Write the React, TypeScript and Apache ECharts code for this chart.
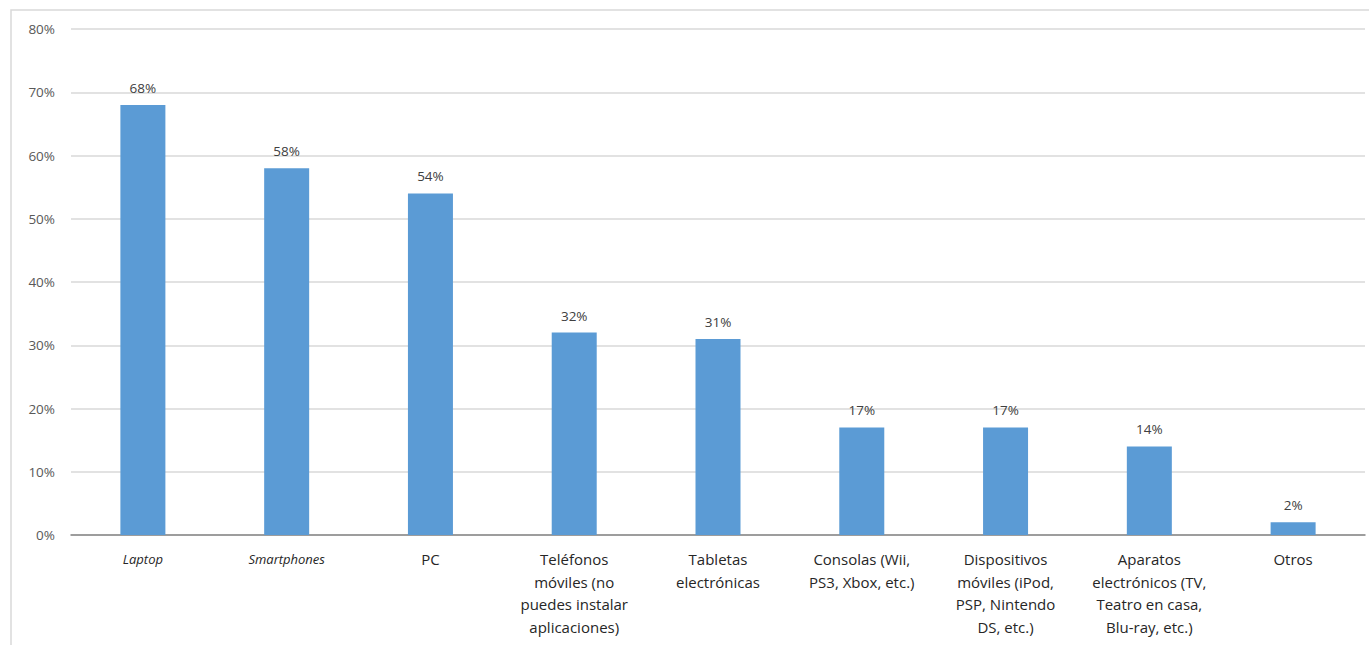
import React, { useEffect, useRef } from "react";
import * as echarts from "echarts";

const categories = [
  "Laptop",
  "Smartphones",
  "PC",
  "Teléfonos\nmóviles (no\npuedes instalar\naplicaciones)",
  "Tabletas\nelectrónicas",
  "Consolas (Wii,\nPS3, Xbox, etc.)",
  "Dispositivos\nmóviles (iPod,\nPSP, Nintendo\nDS, etc.)",
  "Aparatos\nelectrónicos (TV,\nTeatro en casa,\nBlu-ray, etc.)",
  "Otros",
];
const italicCategories = ["Laptop", "Smartphones"];
const values = [68, 58, 54, 32, 31, 17, 17, 14, 2];
const yTicks = [0, 10, 20, 30, 40, 50, 60, 70, 80];

export default function App() {
  const ref = useRef<HTMLDivElement>(null);
  useEffect(() => {
    if (!ref.current) return;
    const chart = echarts.init(ref.current, null, { renderer: "svg" });
    const font = "'Open Sans', 'Noto Sans', sans-serif";
    chart.setOption({
      animation: false,
      backgroundColor: "#ffffff",
      textStyle: { fontFamily: font },
      graphic: [
        {
          type: "rect",
          shape: { x: 11, y: 10, width: 1370, height: 650 },
          style: { fill: "none", stroke: "#d9d9d9", lineWidth: 1.5 },
          silent: true,
        },
      ],
      grid: { left: 71, right: 4, top: 29, bottom: 110, containLabel: false },
      xAxis: {
        type: "category",
        data: categories,
        axisLine: { lineStyle: { color: "#868686", width: 1.5 } },
        axisTick: { show: false },
        axisLabel: {
          interval: 0,
          margin: 13,
          color: "#262626",
          fontSize: 15,
          lineHeight: 22.5,
          fontFamily: font,
          formatter: (v: string) =>
            italicCategories.includes(v) ? `{it|${v}}` : v,
          rich: {
            it: {
              fontStyle: "italic",
              fontSize: 13,
              color: "#262626",
              fontFamily: font,
            },
          },
        },
      },
      yAxis: {
        type: "value",
        min: yTicks[0],
        max: yTicks[yTicks.length - 1],
        interval: 10,
        axisLine: { show: false },
        axisTick: { show: false },
        splitLine: { lineStyle: { color: "#d9d9d9", width: 1.5 } },
        axisLabel: {
          color: "#595959",
          fontSize: 13.5,
          margin: 16,
          fontFamily: font,
          formatter: (v: number) => `${v}%`,
        },
      },
      series: [
        {
          type: "bar",
          data: values,
          barWidth: 45,
          itemStyle: { color: "#5b9bd5" },
          label: {
            show: true,
            position: "top",
            distance: 10,
            color: "#404040",
            fontSize: 13.5,
            fontFamily: font,
            formatter: (p: any) => `${p.value}%`,
          },
        },
      ],
    });
    return () => chart.dispose();
  }, []);
  return (
    <div
      ref={ref}
      style={{ position: "fixed", left: 0, top: 0, width: 1369, height: 645 }}
    />
  );
}
